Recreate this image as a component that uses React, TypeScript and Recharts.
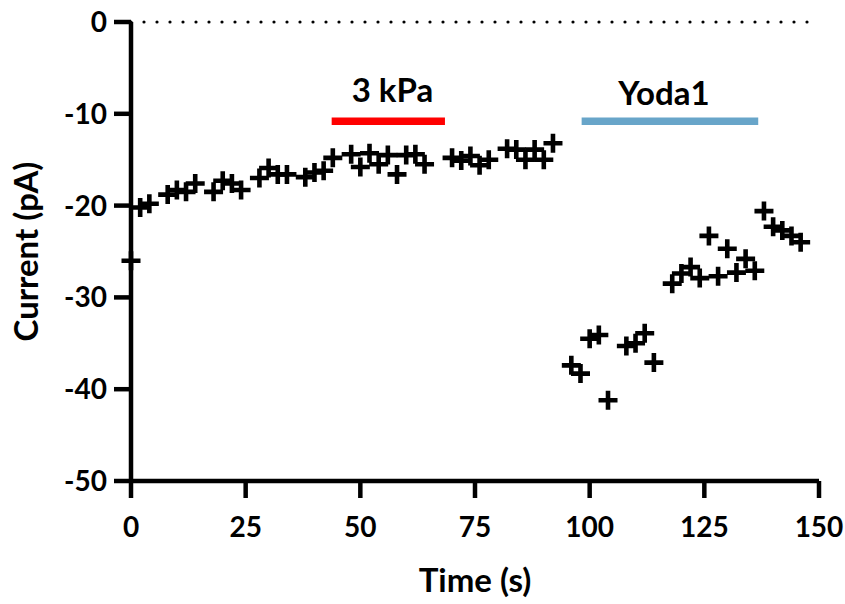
import React from "react";
import {
  ScatterChart, Scatter, XAxis, YAxis, ReferenceLine, ReferenceArea, ReferenceDot, Label,
} from "recharts";

// baseline / pressure phase
const timeA = [0, 2, 4, 8, 10, 12, 14, 18, 20, 22, 24, 28, 30, 32, 34, 38, 40, 42, 44, 48, 50, 52, 54, 56, 58, 60, 62, 64, 70, 72, 74, 76, 78, 82, 84, 86, 88, 90, 92];
const currentA = [-26.0, -20.2, -19.8, -18.8, -18.3, -18.5, -17.6, -18.5, -17.3, -17.6, -18.3, -17.0, -15.9, -16.6, -16.6, -16.9, -16.4, -16.2, -14.8, -14.4, -15.8, -14.3, -15.5, -14.5, -16.6, -14.5, -14.4, -15.5, -14.8, -15.1, -14.6, -15.6, -15.0, -13.8, -13.9, -15.0, -13.9, -15.0, -13.2];

// Yoda1 phase
const timeB = [96, 98, 100, 102, 104, 108, 110, 112, 114, 118, 120, 122, 124, 126, 128, 130, 132, 134, 136, 138, 140, 142, 144, 146];
const currentB = [-37.4, -38.3, -34.5, -34.1, -41.2, -35.3, -35.0, -33.9, -37.1, -28.5, -27.4, -26.7, -27.9, -23.3, -27.7, -24.7, -27.3, -25.8, -27.1, -20.6, -22.3, -22.7, -23.3, -24.0];

const xTicks = [0, 25, 50, 75, 100, 125, 150];
const yTicks = [-50, -40, -30, -20, -10, 0];

const data = [
  ...timeA.map((t, i) => ({ t, v: currentA[i] })),
  ...timeB.map((t, i) => ({ t, v: currentB[i] })),
];

const font = "Lato, 'Open Sans', sans-serif";
const tickStyle = { fill: "#000", fontSize: 28, fontWeight: 700, fontFamily: font };
const titleStyle = { fill: "#000", fontSize: 33, fontWeight: 700, fontFamily: font };

const Plus = (props: any) => {
  const { cx, cy } = props;
  const a = 9.5;
  return (
    <path
      d={`M${cx - a},${cy}H${cx + a}M${cx},${cy - a}V${cy + a}`}
      stroke="#000"
      strokeWidth={4.6}
      fill="none"
    />
  );
};

export default function App() {
  return (
    <div style={{ position: "absolute", left: 0, top: 0, background: "#fff" }}>
      <ScatterChart width={845} height={604} margin={{ top: 22, right: 26, bottom: 0, left: 0 }}>
        <XAxis
          type="number"
          dataKey="t"
          domain={[0, 150]}
          ticks={xTicks}
          height={123}
          tick={tickStyle}
          tickSize={17}
          tickMargin={19}
          axisLine={{ stroke: "#000", strokeWidth: 4.5 }}
          tickLine={{ stroke: "#000", strokeWidth: 4.5 }}
        >
          <Label value="Time (s)" position="insideBottom" offset={12} style={titleStyle} />
        </XAxis>
        <YAxis
          type="number"
          dataKey="v"
          domain={[-50, 0]}
          ticks={yTicks}
          width={131}
          tick={tickStyle}
          tickSize={17}
          tickMargin={7}
          axisLine={{ stroke: "#000", strokeWidth: 4.5 }}
          tickLine={{ stroke: "#000", strokeWidth: 4.5 }}
        >
          <Label
            value="Current (pA)"
            angle={-90}
            position="insideLeft"
            offset={26}
            style={{ ...titleStyle, textAnchor: "middle" }}
          />
        </YAxis>

        <ReferenceLine
          y={0}
          stroke="#000"
          strokeWidth={3.2}
          strokeDasharray="0 13"
          strokeLinecap="round"
        />

        <ReferenceArea x1={43.75} x2={68.45} y1={-10.41} y2={-11.23} fill="#ff0000" fillOpacity={1} stroke="none" />
        <ReferenceArea x1={98.25} x2={136.75} y1={-10.41} y2={-11.23} fill="#68a5c9" fillOpacity={1} stroke="none" />

        <ReferenceDot x={57} y={-7.4} r={0} stroke="none" fill="none">
          <Label value="3 kPa" position="center" style={titleStyle} />
        </ReferenceDot>
        <ReferenceDot x={116.2} y={-7.8} r={0} stroke="none" fill="none">
          <Label value="Yoda1" position="center" style={titleStyle} />
        </ReferenceDot>

        <Scatter data={data} shape={<Plus />} isAnimationActive={false} />
      </ScatterChart>
    </div>
  );
}
